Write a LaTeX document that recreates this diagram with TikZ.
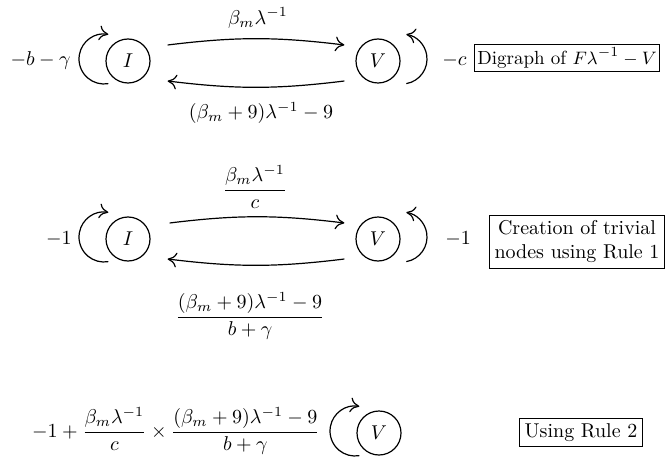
\documentclass[tikz,border=0pt]{standalone}
\usepackage{amsmath,amssymb}
\usepackage{tikz}
\usetikzlibrary{arrows.meta,calc}
\tikzset{
  statenode/.style={circle, draw, line width=0.6pt, minimum size=22pt, inner sep=0pt},
  arcln/.style={-{To[length=1.6mm,width=2.6mm]}, line width=0.6pt},
  loopln/.style={line width=0.6pt},
  lbl/.style={inner sep=0pt},
  rulebox/.style={draw, line width=0.6pt, inner sep=2.5pt, align=center},
}
% self loops, on the left or the right of a state
\newcommand{\loopleft}[1]{%
  \draw[loopln, {To[length=1.6mm,width=2.6mm]}-] ($(#1)+(-24,2)+(80:25)$) arc[start angle=80, end angle=280, radius=25];
}
\newcommand{\loopright}[1]{%
  \draw[loopln, -{To[length=1.6mm,width=2.6mm]}] ($(#1)+(24,2)+(-80:25)$) arc[start angle=-80, end angle=80, radius=25];
}

\begin{document}
\begin{tikzpicture}[x=0.5pt, y=0.5pt]
    \useasboundingbox (0,0) rectangle (667,461);
    % digraph of F lambda^-1 - V
    \node[statenode] (nI1) at (128,400) {$I$};
    \node[statenode] (nV1) at (378,400) {$V$};
    \loopleft{nI1} \loopright{nV1}
    \draw[arcln] ($(nI1.east)+(17,16)$) to[bend left=7] ($(nV1.west)+(-11,16)$);
    \draw[arcln] ($(nV1.west)+(-11,-20)$) to[bend left=7] ($(nI1.east)+(17,-20)$);
    \node (wIV1) at (258,443) {$\beta_m\lambda^{-1}$};
    \node (wVI1) at (261,348) {$(\beta_m+9)\lambda^{-1}-9$};
    \node[lbl, anchor=east] (lI1) at (71,400) {$-b-\gamma$};
    \node[lbl, anchor=west] (lV1) at (442,400) {$-c$};
    \node[rulebox, inner sep=1.5pt, font=\fontsize{9.5pt}{11pt}\selectfont] (box1) at (567,403) {Digraph of $F\lambda^{-1}-V$};
    % trivial nodes (Rule 1)
    \node[statenode] (nI2) at (128,222) {$I$};
    \node[statenode] (nV2) at (378,222) {$V$};
    \loopleft{nI2} \loopright{nV2}
    \draw[arcln] ($(nI2.east)+(19,16)$) to[bend left=7] ($(nV2.west)+(-11,16)$);
    \draw[arcln] ($(nV2.west)+(-11,-20)$) to[bend left=7] ($(nI2.east)+(17,-20)$);
    \node (wIV2) at (255,274) {$\dfrac{\beta_m\lambda^{-1}}{c}$};
    \node (wVI2) at (250,145) {$\dfrac{(\beta_m+9)\lambda^{-1}-9}{b+\gamma}$};
    \node[lbl, anchor=east] (lI2) at (72,222) {$-1$};
    \node[lbl, anchor=west] (lV2) at (445,222) {$-1$};
    \node[rulebox] (box2) at (577,219) {Creation of trivial\\nodes using Rule 1};
    % after Rule 2
    \node (lV3) at (176,30) {$-1+\dfrac{\beta_m\lambda^{-1}}{c}\times\dfrac{(\beta_m+9)\lambda^{-1}-9}{b+\gamma}$};
    \node[statenode] (nV3) at (379,28) {$V$};
    \loopleft{nV3}
    \node[rulebox] (box3) at (581,28.5) {Using Rule 2};
\end{tikzpicture}
\end{document}
